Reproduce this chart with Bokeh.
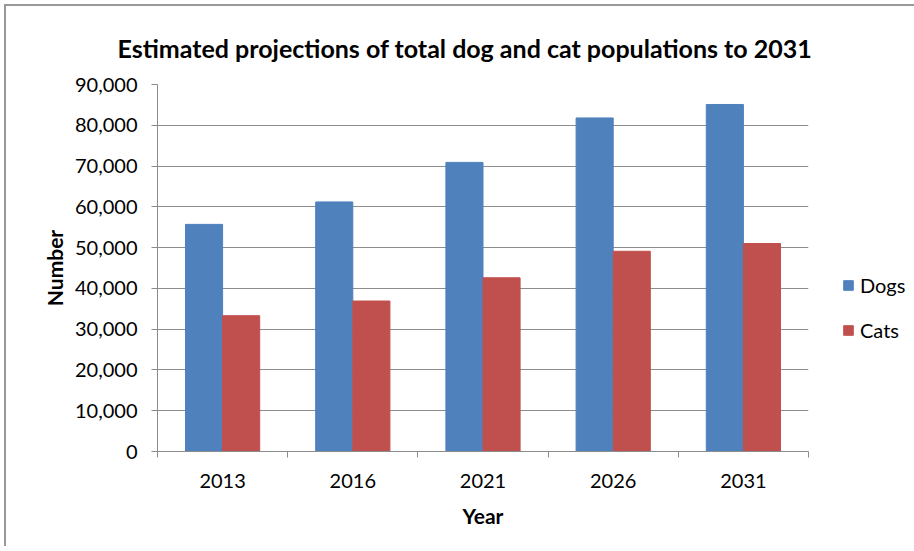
from bokeh.plotting import figure
from bokeh.models import (Range1d, FixedTicker, NumeralTickFormatter, ColumnDataSource,
                          Legend, LegendItem, Title)
from bokeh.transform import dodge
from bokeh.embed import file_html
from bokeh.resources import INLINE
import numpy as np

years = ["2013", "2016", "2021", "2026", "2031"]
dogs = [55700, 61200, 70900, 81800, 85100]
cats = [33300, 36900, 42600, 49100, 51000]
y_ticks = [0, 10000, 20000, 30000, 40000, 50000, 60000, 70000, 80000, 90000]
title_text = "Estimated projections of total dog and cat populations to 2031"

FONT = "Lato"
BLUE = "#4F81BD"
RED = "#C0504D"
GRID = "#8c8c8c"

xpos = np.arange(len(years)) + 0.5
src = ColumnDataSource(dict(x=xpos, dogs=dogs, cats=cats, year=years))

p = figure(x_range=Range1d(0, len(years)), y_range=Range1d(0, 90000),
           frame_width=651, frame_height=367,
           output_backend="svg", toolbar_location=None,
           min_border_left=151, min_border_right=104, min_border_top=78, min_border_bottom=95)
p.styles = {"border-top": "2px solid #999999", "border-left": "2px solid #999999",
            "margin-left": "4px", "margin-top": "4px"}
p.outline_line_color = None
p.background_fill_color = "white"

t = Title(text=title_text, align="left", offset=-40, text_font=FONT,
          text_font_size="25px", text_font_style="bold", text_color="black",
          standoff=44)
p.add_layout(t, "above")

r1 = p.vbar(x=dodge("x", -0.1425, range=p.x_range), top="dogs", width=0.285, source=src,
            fill_color=BLUE, line_color=BLUE)
r2 = p.vbar(x=dodge("x", 0.1425, range=p.x_range), top="cats", width=0.285, source=src,
            fill_color=RED, line_color=RED)

# x axis
xa = p.xaxis[0]
xa.ticker = FixedTicker(ticks=list(xpos), minor_ticks=list(range(len(years) + 1)))
xa.major_label_overrides = {float(v): y for v, y in zip(xpos, years)}
xa.major_tick_line_color = None
xa.major_tick_out = 0
xa.major_tick_in = 0
xa.minor_tick_line_color = GRID
xa.minor_tick_out = 6
xa.minor_tick_in = 0
xa.axis_line_color = GRID
xa.major_label_text_font = FONT
xa.major_label_text_font_size = "20px"
xa.major_label_text_color = "black"
xa.major_label_standoff = 16
xa.axis_label = "Year"
xa.axis_label_text_font = FONT
xa.axis_label_text_font_size = "21px"
xa.axis_label_text_font_style = "bold"
xa.axis_label_text_color = "black"
xa.axis_label_standoff = 12

# y axis
ya = p.yaxis[0]
ya.ticker = FixedTicker(ticks=y_ticks)
ya.formatter = NumeralTickFormatter(format="0,0")
ya.major_tick_line_color = GRID
ya.major_tick_out = 6
ya.major_tick_in = 0
ya.minor_tick_line_color = None
ya.axis_line_color = GRID
ya.major_label_text_font = FONT
ya.major_label_text_font_size = "20px"
ya.major_label_text_color = "black"
ya.major_label_standoff = 14
ya.axis_label = "Number"
ya.axis_label_text_font = FONT
ya.axis_label_text_font_size = "21px"
ya.axis_label_text_font_style = "bold"
ya.axis_label_text_color = "black"
ya.axis_label_standoff = 5

p.xgrid.grid_line_color = None
p.ygrid.grid_line_color = GRID
p.ygrid.ticker = FixedTicker(ticks=y_ticks)

legend = Legend(items=[LegendItem(label="Dogs", renderers=[r1]),
                       LegendItem(label="Cats", renderers=[r2])],
                location=(34, 109), border_line_color=None, background_fill_alpha=0,
                label_text_font=FONT, label_text_font_size="20px", label_text_color="black",
                glyph_width=12, glyph_height=12, label_height=20, spacing=21,
                label_standoff=6)
p.add_layout(legend, "right")

open("out.html", "w").write(file_html(p, INLINE))
